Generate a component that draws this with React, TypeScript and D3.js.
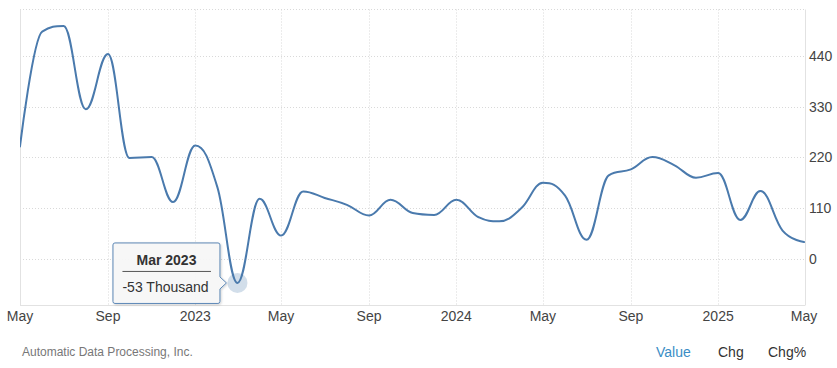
import React from "react";
import * as d3 from "d3";

const months = [
  "2022-05","2022-06","2022-07","2022-08","2022-09","2022-10","2022-11","2022-12",
  "2023-01","2023-02","2023-03","2023-04","2023-05","2023-06","2023-07","2023-08","2023-09","2023-10","2023-11","2023-12",
  "2024-01","2024-02","2024-03","2024-04","2024-05","2024-06","2024-07","2024-08","2024-09","2024-10","2024-11","2024-12",
  "2025-01","2025-02","2025-03","2025-04","2025-05",
];
const values = [
  244, 494, 506, 325, 445, 219, 221, 123,
  246, 155, -53, 130, 50, 146, 132, 117, 94, 128, 99, 95,
  128, 90, 81, 110, 165, 137, 41, 181, 194, 221, 203, 176,
  186, 84, 147, 61, 36,
];
const xTickDates = ["2022-05","2022-09","2023-01","2023-05","2023-09","2024-01","2024-05","2024-09","2025-01","2025-05"];
const xTickLabels = ["May","Sep","2023","May","Sep","2024","May","Sep","2025","May"];
const yTicks = [0, 110, 220, 330, 440];
const tooltipMonth = "2023-03";
const tooltipTitle = "Mar 2023";
const tooltipText = "-53 Thousand";
const source = "Automatic Data Processing, Inc.";
const toggles = ["Value", "Chg", "Chg%"];

const W = 837, H = 368;
const LEFT = 20, RIGHT = 804, TOP = 9.5, BOTTOM = 305;
const LINE = "#4a7aad";
const FONT = "'Liberation Sans', Arial, sans-serif";

const parse = d3.timeParse("%Y-%m");

function splinePath(pts: [number, number][]) {
  const sm = 1.5, den = sm + 1;
  const n = pts.length;
  const lc: ([number, number] | null)[] = new Array(n).fill(null);
  const rc: ([number, number] | null)[] = new Array(n).fill(null);
  for (let i = 1; i < n - 1; i++) {
    const [lx, ly] = pts[i - 1];
    const [px, py] = pts[i];
    const [nx, ny] = pts[i + 1];
    const lcx = (sm * px + lx) / den;
    let lcy = (sm * py + ly) / den;
    const rcx = (sm * px + nx) / den;
    let rcy = (sm * py + ny) / den;
    let corr = 0;
    if (rcx !== lcx) corr = ((rcy - lcy) * (rcx - px)) / (rcx - lcx) + py - rcy;
    lcy += corr; rcy += corr;
    if (lcy > ly && lcy > py) { lcy = Math.max(ly, py); rcy = 2 * py - lcy; }
    else if (lcy < ly && lcy < py) { lcy = Math.min(ly, py); rcy = 2 * py - lcy; }
    if (rcy > ny && rcy > py) { rcy = Math.max(ny, py); lcy = 2 * py - rcy; }
    else if (rcy < ny && rcy < py) { rcy = Math.min(ny, py); lcy = 2 * py - rcy; }
    lc[i] = [lcx, lcy];
    rc[i] = [rcx, rcy];
  }
  const path = d3.path();
  path.moveTo(pts[0][0], pts[0][1]);
  for (let i = 1; i < n; i++) {
    const a = rc[i - 1] || pts[i - 1];
    const b = lc[i] || pts[i];
    path.bezierCurveTo(a[0], a[1], b[0], b[1], pts[i][0], pts[i][1]);
  }
  return path.toString();
}

export default function App() {
  const x = d3.scaleTime()
    .domain([parse(months[0])!, parse(months[months.length - 1])!])
    .range([LEFT, RIGHT]);
  const y = d3.scaleLinear().domain([-101, 542]).range([BOTTOM, TOP]);

  const pts: [number, number][] = months.map((m, i) => [x(parse(m)!), y(values[i])]);
  const d = splinePath(pts);

  const ti = months.indexOf(tooltipMonth);
  const ax = pts[ti][0], ay = pts[ti][1];
  const bl = ax - 124.5, br = ax - 17.5, bt = ay - 40, bb = ay + 20.5;
  const tip = ax - 11;
  const r = 2;
  const callout = `M${bl + r},${bt} L${br - r},${bt} Q${br},${bt} ${br},${bt + r} L${br},${ay - 6} L${tip},${ay} L${br},${ay + 6} L${br},${bb - r} Q${br},${bb} ${br - r},${bb} L${bl + r},${bb} Q${bl},${bb} ${bl},${bb - r} L${bl},${bt + r} Q${bl},${bt} ${bl + r},${bt} Z`;
  const cx = (bl + br) / 2;

  return (
    <svg width={W} height={H} style={{ position: "absolute", left: 0, top: 0, background: "#fff" }} fontFamily={FONT}>
      <defs>
        <clipPath id="plot">
          <rect x={LEFT} y={TOP - 5} width={RIGHT - LEFT + 2} height={BOTTOM - TOP + 5} />
        </clipPath>
        <filter id="sh" x="-20%" y="-20%" width="150%" height="150%">
          <feDropShadow dx="1" dy="1" stdDeviation="1.2" floodColor="#000" floodOpacity="0.18" />
        </filter>
      </defs>
      {/* grid */}
      <g stroke="#d9d9d9" strokeWidth={1} strokeDasharray="1,2">
        <line x1={LEFT} x2={RIGHT} y1={TOP} y2={TOP} />
        {yTicks.map((t) => (
          <line key={t} x1={LEFT} x2={RIGHT} y1={Math.round(y(t)) + 0.5} y2={Math.round(y(t)) + 0.5} />
        ))}
        {xTickDates.slice(1, -1).map((t) => {
          const xx = Math.round(x(parse(t)!)) + 0.5;
          return <line key={t} x1={xx} x2={xx} y1={TOP} y2={BOTTOM} />;
        })}
      </g>
      <g stroke="#e2e2e2" strokeWidth={1}>
        <line x1={LEFT + 0.5} x2={LEFT + 0.5} y1={TOP} y2={BOTTOM} />
        <line x1={RIGHT + 1.5} x2={RIGHT + 1.5} y1={TOP} y2={BOTTOM} />
        <line x1={LEFT} x2={RIGHT + 1.5} y1={BOTTOM + 0.5} y2={BOTTOM + 0.5} />
      </g>
      {/* y labels */}
      <g fill="#444" fontSize={14}>
        {yTicks.map((t) => (
          <text key={t} x={809} y={y(t) + 5}>{t}</text>
        ))}
      </g>
      {/* x labels */}
      <g fill="#444" fontSize={14} textAnchor="middle">
        {xTickDates.map((t, i) => (
          <text key={t + i} x={x(parse(t)!)} y={321}>{xTickLabels[i]}</text>
        ))}
      </g>
      {/* line */}
      <path d={d} fill="none" stroke={LINE} strokeWidth={2} clipPath="url(#plot)" strokeLinejoin="round" strokeLinecap="round" />
      {/* halo */}
      <circle cx={ax} cy={ay} r={10} fill={LINE} fillOpacity={0.25} />
      {/* tooltip */}
      <path d={callout} fill="#f8f8f8" fillOpacity={0.95} stroke="#5b86b5" strokeWidth={1} filter="url(#sh)" />
      <text x={cx} y={bt + 22.5} textAnchor="middle" fontSize={14} fontWeight="bold" fill="#333">{tooltipTitle}</text>
      <line x1={bl + 9.5} x2={br - 9} y1={bt + 28.5} y2={bt + 28.5} stroke="#555" strokeWidth={1} />
      <text x={bl + 9.5} y={bt + 49.5} fontSize={14} fill="#333">{tooltipText}</text>
      {/* footer */}
      <text x={22} y={356} fontSize={12} fill="#777">{source}</text>
      <g fontSize={14}>
        <text x={656} y={357} fill="#3a8dc5">{toggles[0]}</text>
        <text x={718} y={357} fill="#333">{toggles[1]}</text>
        <text x={768} y={357} fill="#333">{toggles[2]}</text>
      </g>
    </svg>
  );
}
